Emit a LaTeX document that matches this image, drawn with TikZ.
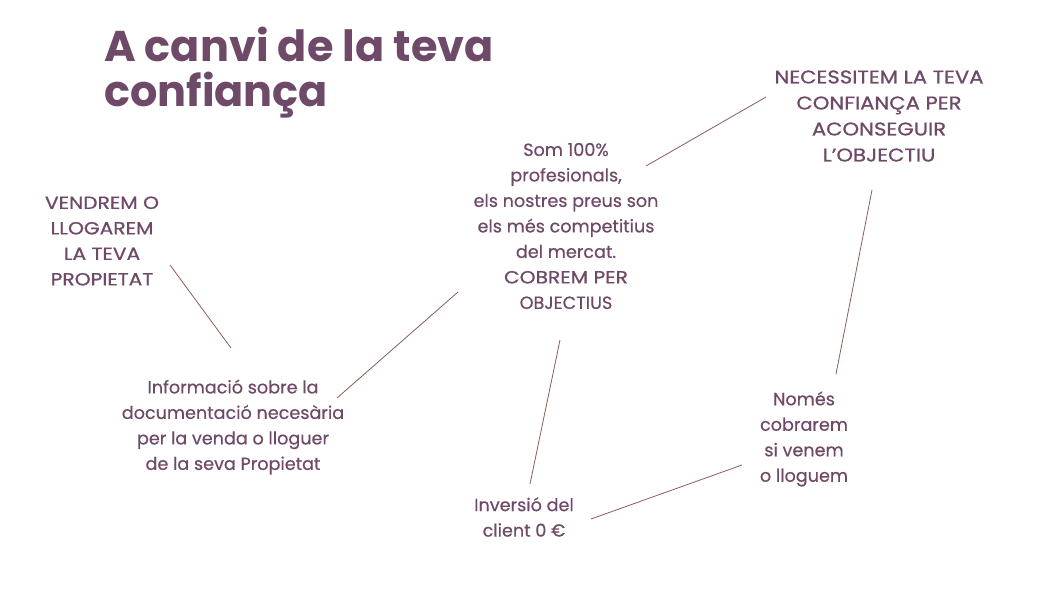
\documentclass[tikz,border=0pt]{standalone}
\usepackage{fontspec}
\setmainfont{Poppins}
\newfontface\medfont{Poppins}[FakeBold=0.5]
\newfontface\capsfont{Poppins}[FakeBold=0.9,FakeStretch=1.15]
\usepackage{tikz}
\usetikzlibrary{positioning}
\definecolor{tvPurple}{RGB}{110,74,104}
\definecolor{tvLink}{RGB}{140,92,90}

\begin{document}
\begin{tikzpicture}[
  x=1pt, y=-1pt,
  txt/.style={text=tvPurple, align=center, inner sep=0pt, font=\medfont\fontsize{17.6}{25.5}\selectfont},
  caps/.style={txt, font=\capsfont\fontsize{17.6}{25.5}\selectfont},
  link/.style={draw=tvLink, line width=0.8pt}
]
\useasboundingbox (0,0) rectangle (1049,597);
% title
\node[text=tvPurple, align=left, inner sep=0pt, anchor=north west,
  font=\fontsize{43}{45}\selectfont\bfseries] (title) at (104,27) {A canvi de la teva\\confiança};
% text blocks
\node[caps] (vendrem) at (102,241) {VENDREM O\\LLOGAREM\\LA TEVA\\PROPIETAT};
\node[txt] (som) at (566,226) {Som 100\%\\profesionals,\\els nostres preus son\\els més competitius\\del mercat.\\\capsfont COBREM PER\\OBJECTIUS};
\node[caps, font=\capsfont\fontsize{18.4}{26}\selectfont] (necessitem) at (879,116) {NECESSITEM LA TEVA\\CONFIANÇA PER\\ACONSEGUIR\\L’OBJECTIU};
\node[txt] (info) at (233,427) {Informació sobre la\\documentació necesària\\per la venda o lloguer\\de la seva Propietat};
\node[txt] (nomes) at (804,439) {Només\\cobrarem\\si venem\\o lloguem};
\node[txt] (inversio) at (524,517) {Inversió del\\client 0 €};
% connector ends
\coordinate (v1) at (170,265);  \coordinate (v2) at (231,348);
\coordinate (i1) at (337,398);  \coordinate (s1) at (458,292);
\coordinate (s2) at (646,166);  \coordinate (n1) at (766,97);
\coordinate (n2) at (872,190);  \coordinate (m1) at (836,374);
\coordinate (s3) at (560,340);  \coordinate (c1) at (530,484);
\coordinate (c2) at (591,519);  \coordinate (m2) at (742,465);
\foreach \a/\b in {v1/v2, i1/s1, s2/n1, n2/m1, s3/c1, c2/m2}
  \draw[link] (\a) -- (\b);
\end{tikzpicture}
\end{document}
